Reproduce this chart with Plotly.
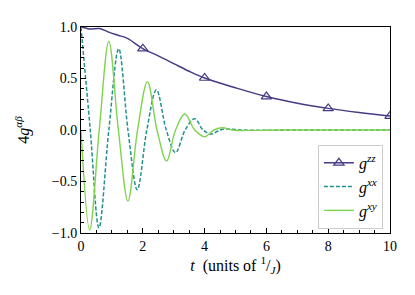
import plotly.graph_objects as go

# g^zz (solid purple with triangle markers)
t_zz = [0.0, 0.15, 0.3, 0.6, 0.9, 1.2, 1.5, 2.0, 2.5, 3.0, 3.5, 4.0, 5.0, 6.0, 7.0, 8.0, 9.0, 10.0]
g_zz = [1.0, 0.99, 0.98, 0.985, 0.95, 0.92, 0.89, 0.79, 0.72, 0.645, 0.57, 0.505, 0.41, 0.325, 0.26, 0.21, 0.17, 0.135]
t_zz_mk = [2.0, 4.0, 6.0, 8.0, 10.0]
g_zz_mk = [0.79, 0.505, 0.325, 0.21, 0.135]

# g^xx (dashed teal)
t_xx = [0.0, 0.3, 0.58, 0.9, 1.22, 1.52, 1.82, 2.13, 2.44, 2.76, 3.06, 3.37, 3.68, 3.95, 4.22, 4.5, 4.75, 5.2, 6.0, 7.0, 8.0, 9.0, 10.0]
g_xx = [1.0, 0.0, -0.95, 0.0, 0.79, 0.0, -0.58, 0.0, 0.39, 0.0, -0.22, 0.0, 0.11, 0.0, -0.04, 0.0, 0.01, 0.0, -0.003, 0.0, 0.0, 0.0, 0.0]

# g^xy (solid green)
t_xy = [0.0, 0.28, 0.59, 0.9, 1.21, 1.52, 1.83, 2.15, 2.46, 2.77, 3.06, 3.36, 3.68, 4.0, 4.3, 4.58, 4.9, 5.5, 6.5, 7.5, 8.5, 10.0]
g_xy = [0.0, -0.97, 0.0, 0.86, 0.0, -0.69, 0.0, 0.47, 0.0, -0.30, 0.0, 0.155, 0.0, -0.065, 0.0, 0.022, 0.0, -0.004, 0.0, 0.0, 0.0, 0.0]

x_ticks = [0, 2, 4, 6, 8, 10]
y_ticks = [-1.0, -0.5, 0.0, 0.5, 1.0]
y_tick_text = ["\u22121.0", "\u22120.5", "0.0", "0.5", "1.0"]

PURPLE = "#453b84"
TEAL = "#22918c"
GREEN = "#7fd34e"
FONT = "Liberation Serif"

fig = go.Figure()
fig.add_trace(go.Scatter(x=t_zz, y=g_zz, mode="lines", line=dict(color=PURPLE, width=1.5, shape="spline"),
                         showlegend=False, legendgroup="zz"))
fig.add_trace(go.Scatter(x=t_zz_mk, y=g_zz_mk, mode="markers",
                         marker=dict(symbol="triangle-up-open", size=9, color=PURPLE, line=dict(width=1.2, color=PURPLE)),
                         showlegend=False, legendgroup="zz"))
# legend entry for zz (line + marker)
fig.add_trace(go.Scatter(x=[None], y=[None], mode="lines+markers", name="<i>g</i><sup><i>zz</i></sup>",
                         line=dict(color=PURPLE, width=1.5),
                         marker=dict(symbol="triangle-up-open", size=9, color=PURPLE, line=dict(width=1.2, color=PURPLE))))
fig.add_trace(go.Scatter(x=t_xx, y=g_xx, mode="lines", name="<i>g</i><sup><i>xx</i></sup>",
                         line=dict(color=TEAL, width=1.5, dash="4px,2px", shape="spline")))
fig.add_trace(go.Scatter(x=t_xy, y=g_xy, mode="lines", name="<i>g</i><sup><i>xy</i></sup>",
                         line=dict(color=GREEN, width=1.4, shape="spline")))

fig.update_layout(
    width=407, height=287,
    margin=dict(l=73, r=25, t=15, b=62),
    paper_bgcolor="white", plot_bgcolor="white",
    font=dict(family=FONT, size=14, color="black"),
    showlegend=True,
    legend=dict(x=0.977, y=0.02, xanchor="right", yanchor="bottom",
                bgcolor="white", bordercolor="#cccccc", borderwidth=1,
                font=dict(family=FONT, size=16), tracegroupgap=0,
                itemwidth=30),
    xaxis=dict(range=[0, 10], tickvals=x_ticks, ticks="inside", ticklen=5, tickcolor="black",
               showline=True, linecolor="black", linewidth=1, mirror=True, showgrid=False, zeroline=False,
               minor=dict(dtick=0.5, ticks="inside", ticklen=3, tickcolor="black", showgrid=False),
               title=dict(text="<i>t</i>  (units of <sup>1</sup>/<sub><i>J</i></sub>)", standoff=6,
                          font=dict(family=FONT, size=16))),
    yaxis=dict(range=[-1, 1], tickvals=y_ticks, ticktext=y_tick_text, ticks="inside", ticklen=5, tickcolor="black",
               showline=True, linecolor="black", linewidth=1, mirror=True, showgrid=False, zeroline=False,
               minor=dict(dtick=0.1, ticks="inside", ticklen=3, tickcolor="black", showgrid=False),
               title=dict(text="4<i>g</i><sup><i>\u03b1\u03b2</i></sup>", standoff=18,
                          font=dict(family=FONT, size=16))),
)

fig.write_html("out.html")
